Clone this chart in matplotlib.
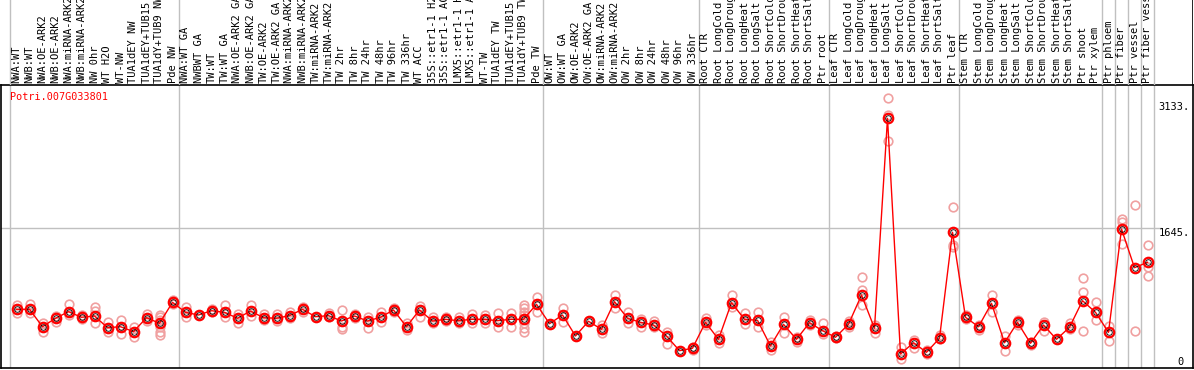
import matplotlib
matplotlib.use("Agg")
import matplotlib.pyplot as plt

gene = "Potri.007G033801"

labels = [
    "NWA:WT", "NWB:WT", "NWA:OE-ARK2", "NWB:OE-ARK2", "NWA:miRNA-ARK2", "NWB:miRNA-ARK2",
    "NW 0hr", "WT H2O", "WT-NW", "TUA1dEY NW", "TUA1dEY+TUB15 NW", "TUA1dY+TUB9 NW", "Pde NW",
    "NWA:WT GA", "NWBWT GA", "TW:WT", "TW:WT GA", "NWA:OE-ARK2 GA", "NWB:OE-ARK2 GA",
    "TW:OE-ARK2", "TW:OE-ARK2 GA", "NWA:miRNA-ARK2 GA", "NWB:miRNA-ARK2 GA", "TW:miRNA-ARK2",
    "TW:miRNA-ARK2 GA", "TW 2hr", "TW 8hr", "TW 24hr", "TW 48hr", "TW 96hr", "TW 336hr", "WT ACC",
    "35S::etr1-1 H2O", "35S::etr1-1 ACC", "LMX5::etr1-1 H2O", "LMX5::etr1-1 ACC", "WT-TW",
    "TUA1dEY TW", "TUA1dEY+TUB15 TW", "TUA1dY+TUB9 TW", "Pde TW",
    "OW:WT", "OW:WT GA", "OW:OE-ARK2", "OW:OE-ARK2 GA", "OW:miRNA-ARK2", "OW:miRNA-ARK2 GA",
    "OW 2hr", "OW 8hr", "OW 24hr", "OW 48hr", "OW 96hr", "OW 336hr",
    "Root CTR", "Root LongCold", "Root LongDrought", "Root LongHeat", "Root LongSalt",
    "Root ShortCold", "Root ShortDrought", "Root ShortHeat", "Root ShortSalt", "Ptr root",
    "Leaf CTR", "Leaf LongCold", "Leaf LongDrought", "Leaf LongHeat", "Leaf LongSalt",
    "Leaf ShortCold", "Leaf ShortDrought", "Leaf ShortHeat", "Leaf ShortSalt", "Ptr leaf",
    "Stem CTR", "Stem LongCold", "Stem LongDrought", "Stem LongHeat", "Stem LongSalt",
    "Stem ShortCold", "Stem ShortDrought", "Stem ShortHeat", "Stem ShortSalt", "Ptr shoot",
    "Ptr xylem", "Ptr phloem", "Ptr fiber", "Ptr vessel", "Ptr fiber vessel",
]

# group boundaries (between columns)
separators = [-0.5, 12.5, 40.5, 52.5, 62.5, 72.5, 83.5, 84.5, 85.5, 86.5, 87.5]

means = [
    648, 648, 434, 538, 619, 550, 566, 422, 434, 373, 545, 476, 734,
    611, 578, 631, 611, 538, 627, 545, 538, 570, 648, 557, 570, 504, 566, 504, 550, 640,
    434, 640, 504, 525, 508, 525, 525, 508, 525, 525, 710,
    471, 578, 320, 501, 402, 742, 538, 488, 455, 320, 139, 169,
    488, 279, 730, 525, 513, 197, 464, 279, 484, 385,
    304, 464, 824, 415, 2998, 98, 237, 119, 292, 1596,
    550, 434, 722, 237, 488, 230, 455, 279, 427, 754, 611,
    365, 1636, 1160, 1227,
]

reps = [
    [701, 648, 599], [714, 648, 599], [484, 434, 373], [566, 550, 496], [714, 619, 578],
    [578, 550, 525], [680, 631, 566, 476], [496, 422, 373], [517, 434, 344], [434, 373, 304],
    [587, 545, 508], [578, 550, 517, 476, 427, 373, 332], [763, 734, 714],
    [673, 611, 550], [578, 578], [648, 631, 611], [701, 611, 550], [587, 538, 484],
    [701, 627, 566], [587, 545, 517], [587, 538, 508], [611, 570, 538], [673, 648, 619],
    [557, 557], [599, 570, 550], [640, 504, 434, 402], [587, 566, 545], [557, 504, 415],
    [611, 550, 488], [661, 640, 619], [476, 434, 394], [689, 640, 557], [550, 504, 484],
    [550, 525, 504], [557, 508, 484], [587, 525, 476], [578, 525, 484], [599, 508, 434],
    [599, 525, 434], [701, 661, 619, 578, 525, 476, 415, 365], [796, 710, 611],
    [471, 471], [661, 578, 488], [320, 320], [501, 501], [455, 402, 353], [824, 742, 661],
    [619, 538, 476], [529, 488, 434], [504, 455, 434], [373, 320, 218], [139, 139],
    [188, 169, 148],
    [538, 488, 455], [332, 279, 230], [824, 730, 673], [599, 525, 464], [619, 513, 434],
    [250, 197, 148], [557, 464, 360], [311, 279, 250], [517, 484, 455], [476, 385, 341],
    [320, 304, 292], [508, 464, 434], [1042, 886, 698], [455, 415, 360], [3244, 3039, 2719],
    [188, 33], [271, 169], [148, 98], [332, 279], [1903, 1439, 1411],
    [578, 550, 525], [455, 434, 394], [824, 722, 619], [320, 237, 135], [517, 488, 455],
    [250, 230, 209], [488, 455, 385], [279, 279], [476, 427, 402], [1030, 858, 385],
    [734, 611, 517],
    [447, 262], [1756, 1719, 1448], [1932, 381], [1439, 1165, 1062],
]

ytick_vals = [3133, 1645, 0]

W, H = 1194, 370
grid_col = "#c0c0c0"
mono = "DejaVu Sans Mono"

fig = plt.figure(figsize=(W / 100, H / 100), dpi=100)
fig.patch.set_facecolor("white")

# main plot box: x 1..1193 px, y 85..368 px from top
ax = fig.add_axes([1 / W, 2 / H, 1192 / W, 283 / H])
xlo, xhi = (1 - 16.5) / 13, (1193 - 16.5) / 13
ax.set_xlim(xlo, xhi)
ax.set_ylim(-74, 3408)
ax.set_xticks([])
ax.set_yticks([])
for s in ax.spines.values():
    s.set_color("black")
    s.set_linewidth(1.2)

for sx in separators:
    ax.axvline(sx, color=grid_col, lw=1, zorder=1)
ax.axhline(1645, xmin=0, xmax=(1161 - 1) / 1192, color=grid_col, lw=1, zorder=1)

x = list(range(len(labels)))
for i, r in enumerate(reps):
    ax.plot([i] * len(r), r, ls="none", marker="o", ms=6.2, mfc="none",
            mec="#f0a0a0", mew=1.2, zorder=2)

ax.plot(x, means, color="red", lw=1, zorder=3)
ax.plot(x, means, ls="none", marker="o", ms=6.8, mfc="none", mec="red", mew=1.6, zorder=4)
ax.plot(x, means, ls="none", marker="o", ms=4.0, mfc="none", mec="black", mew=0.6, zorder=5)

ax.text(9 / 1192, 1 - 12 / 283, gene, transform=ax.transAxes, color="red",
        fontsize=7.3, family=mono, ha="left", va="center")

ytr = ax.get_yaxis_transform()
ax.text(0.9975, ytick_vals[0], "3133.", transform=ytr, ha="right", va="center",
        fontsize=7.5, family=mono)
ax.text(0.9975, ytick_vals[1], "1645.", transform=ytr, ha="right", va="top",
        fontsize=7.5, family=mono)
ax.text(0.9925, ytick_vals[2], "0", transform=ytr, ha="right", va="center",
        fontsize=7.5, family=mono)

# header with rotated sample names
hax = fig.add_axes([1 / W, (H - 85) / H, 1192 / W, 85 / H])
hax.set_xlim(xlo, xhi)
hax.set_ylim(0, 85)
hax.axis("off")
for sx in separators:
    hax.axvline(sx, color=grid_col, lw=1)
hax.axvline(xhi, color="black", lw=1.2)
for i, lab in enumerate(labels):
    hax.text(i, 2, lab, rotation=90, ha="center", va="bottom", fontsize=7.5,
             family=mono, clip_on=False)

fig.savefig("out.png", dpi=100)
